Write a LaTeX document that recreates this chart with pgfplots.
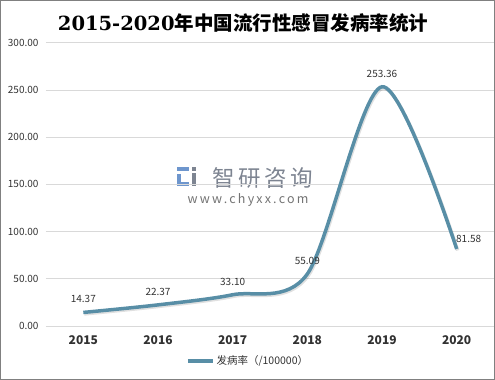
\documentclass[border=0pt]{standalone}
\usepackage{pgfplots}
\pgfplotsset{compat=1.18}
\usepackage{fontspec}
\setmainfont{Noto Sans CJK SC}
\newfontfamily\serifnum{DejaVu Serif}
\newfontfamily\cjk{Noto Sans CJK SC}
\newfontfamily\wmfont[LetterSpace=18]{Noto Sans CJK SC}
\newfontfamily\wmcjk[LetterSpace=16]{Noto Sans CJK SC}
\definecolor{linec}{RGB}{88,142,166}
\definecolor{gridc}{RGB}{217,217,217}
\definecolor{txt}{RGB}{50,50,50}
\definecolor{wmblue}{RGB}{110,150,205}
\definecolor{wmgray}{RGB}{125,132,145}
\begin{document}
\begin{tikzpicture}
\useasboundingbox (0,0) rectangle (495bp,380bp);
\draw[color=black!50, line width=1bp] (0.5bp,0.5bp) rectangle (494.5bp,379.5bp);
% watermark
\fill[wmblue] (177bp,209bp) rectangle (189bp,213bp);
\fill[wmblue] (177bp,194bp) rectangle (181bp,206bp);
\fill[wmblue] (177bp,194bp) rectangle (189bp,198bp);
\fill[wmgray] (192bp,194bp) rectangle (196bp,207bp);
\fill[wmgray] (192bp,209bp) rectangle (196bp,213bp);
\node[text=wmgray, font={\wmcjk\fontsize{22.5bp}{24bp}\selectfont}] at (263bp,202bp) {智研咨询};
\node[text=black!55, font={\wmfont\fontsize{12.5bp}{14bp}\selectfont}] at (248bp,180bp) {www.chyxx.com};
\node[font={\fontsize{19.5bp}{23bp}\selectfont\bfseries}] at (243bp,357bp) {{\serifnum\bfseries 2015-2020}年中国流行性感冒发病率统计};
\begin{axis}[
  at={(46bp,54bp)}, anchor=south west,
  scale only axis, width=448bp, height=283.3bp,
  xmin=-0.5, xmax=5.5, ymin=0, ymax=300,
  xtick={0,1,2,3,4,5},
  xticklabels={2015,2016,2017,2018,2019,2020},
  ytick={0,50,100,150,200,250,300},
  yticklabel={\pgfmathprintnumber[fixed,fixed zerofill,precision=2]{\tick}},
  /pgf/number format/assume math mode=true,
  ymajorgrids, grid style={gridc, line width=0.8bp},
  axis line style={draw=none}, tick style={draw=none},
  yticklabel style={font={\fontsize{10bp}{12bp}\selectfont}, text=txt, xshift=-4bp},
  xticklabel style={font={\fontsize{12bp}{14bp}\selectfont\bfseries}, text=txt, yshift=-6bp},
  clip=false,
  legend style={at={(0.451,-0.1235)}, anchor=center, draw=none, fill=none,
    font={\fontsize{10.5bp}{12bp}\selectfont}, text=txt},
  legend image code/.code={\draw[#1, line width=3.5bp] (0bp,0bp) -- (25bp,0bp);},
]
\addplot[black, opacity=0.12, line width=3.5bp, smooth, tension=0.5, forget plot, yshift=-1.5bp, xshift=1bp]
  coordinates {(0,14.37) (1,22.37) (2,33.10) (3,55.09) (4,253.36) (5,81.58)};
\addplot[linec, line width=3.5bp, smooth, tension=0.5]
  coordinates {(0,14.37) (1,22.37) (2,33.10) (3,55.09) (4,253.36) (5,81.58)};
\addlegendentry{发病率（/100000）}
\addplot[draw=none, forget plot, nodes near coords={\pgfmathprintnumber[fixed,fixed zerofill,precision=2]{\pgfplotspointmeta}},
  nodes near coords style={font={\fontsize{10bp}{12bp}\selectfont}, text=txt, anchor=south, yshift=6bp}]
  coordinates {(0,14.37) (1,22.37) (2,33.10) (3,55.09) (4,253.36)};
\addplot[draw=none, forget plot, nodes near coords={\pgfmathprintnumber[fixed,fixed zerofill,precision=2]{\pgfplotspointmeta}},
  nodes near coords style={font={\fontsize{10bp}{12bp}\selectfont}, text=txt, anchor=south, yshift=3bp, xshift=12bp}]
  coordinates {(5,81.58)};
\end{axis}
\end{tikzpicture}
\end{document}
